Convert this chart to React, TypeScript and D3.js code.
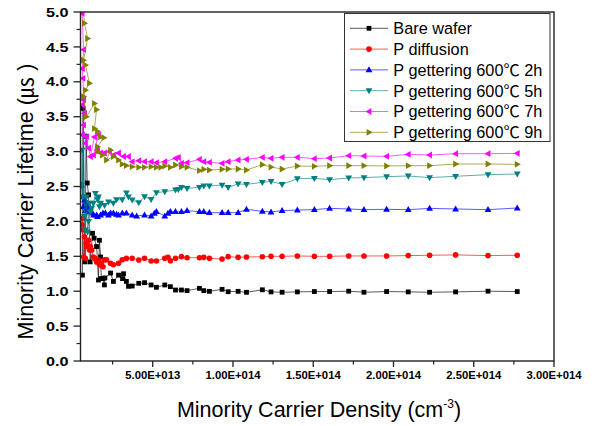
import React from 'react';
import * as d3 from 'd3';

const W = 594;
const H = 426;
const PL = 80.5, PR = 554, PT = 12, PB = 361;

const seriesNames = [
  'Bare wafer',
  'P diffusion',
  'P gettering 600℃ 2h',
  'P gettering 600℃ 5h',
  'P gettering 600℃ 7h',
  'P gettering 600℃ 9h',
];
const seriesColors = ['#000000', '#FF0000', '#0000FF', '#008080', '#FF00FF', '#808000'];
const seriesMarkers = ['square', 'circle', 'up', 'down', 'left', 'right'];

// x values in units of 1e13 cm^-3
const bareX = [0.62, 0.66, 0.72, 0.78, 0.85, 0.92, 1.0, 1.1, 1.25, 1.35, 1.5, 1.56, 1.62, 1.68, 1.75, 1.8, 1.9, 1.99, 2.02, 2.37, 2.55, 2.87, 3.12, 3.18, 3.36, 3.49,
  3.72, 4.13, 4.49, 4.9, 5.23, 5.75, 6.1, 6.42, 6.79, 7.14, 7.91, 8.18, 8.53, 9.32, 9.7, 10.32, 10.84,
  11.83, 12.37, 13.06, 14.01, 15.07, 16.02, 17.21, 18.16, 19.57, 20.92, 22.25, 23.87, 25.89, 27.71];
const bareY = [1.23, 3.62, 2.05, 1.42, 3.22, 2.55, 2.38, 1.42, 1.83, 1.76, 1.64, 1.45, 1.16, 1.73, 1.49, 1.18, 1.18, 1.09, 1.19, 1.26, 1.14, 1.23, 1.18, 1.25, 1.14, 1.07,
  1.074, 1.113, 1.122, 1.089, 1.056, 1.089, 1.065, 1.017, 1.017, 1.008, 1.041, 1.008, 0.998, 1.027, 0.993, 0.998, 0.984,
  1.02, 0.99, 0.985, 0.99, 0.995, 0.995, 1.0, 0.985, 0.995, 0.99, 0.985, 0.99, 1.0, 0.995];

const diffX = [0.56, 0.6, 0.65, 0.7, 0.75, 0.8, 0.85, 0.9, 1.0, 1.06, 1.12, 1.2, 1.3, 1.4, 1.5, 1.6, 1.68, 1.78, 1.9, 2.0, 2.12, 2.37, 2.55, 2.87, 3.1, 3.36,
  3.72, 4.13, 4.49, 4.9, 5.23, 5.75, 5.95, 6.1, 6.42, 6.79, 7.14, 7.91, 8.18, 8.53, 9.32, 9.7, 10.32, 10.84,
  11.83, 12.37, 13.06, 14.01, 15.07, 16.02, 17.21, 18.16, 19.57, 20.92, 22.25, 23.87, 25.89, 27.71];
const diffY = [2.04, 1.95, 1.88, 1.49, 1.78, 1.47, 1.69, 1.64, 1.73, 1.59, 1.64, 1.59, 1.49, 1.47, 1.42, 1.45, 1.38, 1.4, 1.35, 1.45, 1.45, 1.4, 1.38, 1.4, 1.45, 1.47,
  1.471, 1.447, 1.471, 1.433, 1.433, 1.471, 1.485, 1.437, 1.471, 1.495, 1.48, 1.48, 1.485, 1.471, 1.461, 1.495, 1.485, 1.49,
  1.494, 1.5, 1.5, 1.505, 1.5, 1.5, 1.505, 1.505, 1.505, 1.51, 1.515, 1.52, 1.51, 1.515];

const g2X = [0.56, 0.62, 0.68, 0.75, 0.81, 0.87, 0.94, 1.0, 1.06, 1.12, 1.25, 1.31, 1.5, 1.56, 1.75, 1.9, 2.05, 2.24, 2.37, 2.55, 2.74, 2.87, 3.1, 3.36,
  3.72, 4.0, 4.49, 4.9, 5.1, 5.23, 5.75, 5.95, 6.1, 6.42, 6.79, 7.14, 7.91, 8.18, 8.53, 9.32, 9.7, 10.32, 10.84,
  11.83, 12.37, 13.06, 14.01, 15.07, 16.02, 17.21, 18.16, 19.57, 20.92, 22.25, 23.87, 25.89, 27.71];
const g2Y = [2.52, 2.35, 2.21, 2.31, 2.16, 2.28, 2.19, 2.23, 2.14, 2.14, 2.12, 2.09, 2.09, 2.07, 2.09, 2.12, 2.12, 2.09, 2.12, 2.12, 2.1, 2.09, 2.12, 2.12,
  2.092, 2.077, 2.092, 2.077, 2.116, 2.139, 2.077, 2.116, 2.139, 2.139, 2.139, 2.154, 2.139, 2.139, 2.125, 2.125, 2.125, 2.125, 2.173,
  2.144, 2.135, 2.154, 2.163, 2.168, 2.187, 2.178, 2.168, 2.173, 2.168, 2.187, 2.178, 2.168, 2.192];

const g5X = [0.56, 0.6, 0.65, 0.7, 0.75, 0.8, 0.87, 0.94, 1.0, 1.06, 1.12, 1.2, 1.31, 1.43, 1.56, 1.62, 1.68, 1.75, 2.0, 2.24, 2.55, 2.74, 3.1, 3.36, 3.49,
  3.72, 4.13, 4.49, 4.9, 5.23, 5.75, 6.42, 6.6, 6.79, 7.14, 7.91, 8.18, 8.53, 9.32, 9.7, 10.32, 10.84,
  11.83, 12.37, 13.06, 14.01, 15.07, 16.02, 17.21, 18.16, 19.57, 20.92, 22.25, 23.87, 25.89, 27.71];
const g5Y = [2.52, 3.02, 2.35, 3.22, 2.07, 1.88, 2.35, 1.85, 2.0, 2.26, 2.14, 2.19, 2.26, 2.4, 2.31, 2.35, 2.21, 2.26, 2.23, 2.28, 2.26, 2.31, 2.31, 2.41, 2.35,
  2.307, 2.268, 2.354, 2.316, 2.412, 2.426, 2.45, 2.459, 2.488, 2.474, 2.488, 2.507, 2.507, 2.521, 2.488, 2.536, 2.531,
  2.56, 2.574, 2.531, 2.612, 2.617, 2.598, 2.622, 2.627, 2.641, 2.651, 2.627, 2.646, 2.67, 2.679];

const g7X = [0.56, 0.6, 0.69, 0.62, 0.65, 0.69, 0.62, 0.75, 0.69, 0.62, 0.87, 0.81, 1.0, 1.12, 1.37, 1.62, 1.31, 1.56, 1.75, 1.99, 2.3, 2.55, 2.87, 3.18, 3.49,
  3.72, 4.13, 4.49, 4.9, 5.23, 5.75, 6.42, 6.6, 6.79, 7.14, 7.91, 8.18, 8.53, 9.32, 9.7, 10.32, 10.84,
  11.83, 12.37, 13.06, 14.01, 15.07, 16.02, 17.21, 18.16, 19.57, 20.92, 22.25, 23.87, 25.89, 27.71];
const g7Y = [5.2, 4.98, 4.46, 4.19, 4.05, 3.74, 3.67, 3.55, 3.38, 3.24, 3.21, 3.12, 3.05, 2.93, 3.21, 3.24, 2.95, 3.02, 2.98, 2.98, 3.0, 2.95, 2.98, 2.93, 2.93,
  2.856, 2.87, 2.856, 2.856, 2.841, 2.856, 2.904, 2.918, 2.832, 2.841, 2.889, 2.856, 2.846, 2.832, 2.856, 2.88, 2.889,
  2.918, 2.904, 2.918, 2.918, 2.899, 2.908, 2.942, 2.937, 2.932, 2.961, 2.951, 2.97, 2.97, 2.975];

const g9X = [0.58, 0.75, 0.94, 0.69, 0.81, 1.06, 0.81, 0.69, 0.87, 1.37, 1.5, 1.37, 1.56, 1.75, 1.96, 1.56, 1.56, 1.87, 2.37, 2.12, 2.55, 2.87, 3.1, 3.36,
  3.72, 4.13, 4.49, 4.9, 5.23, 5.5, 5.75, 6.1, 6.42, 6.79, 7.14, 7.91, 8.18, 8.53, 9.32, 9.7, 10.32, 10.84,
  11.83, 12.37, 13.06, 14.01, 15.07, 16.02, 17.21, 18.16, 19.57, 20.92, 22.25, 23.87, 25.89, 27.71];
const g9Y = [5.25, 4.84, 4.62, 4.31, 4.24, 3.98, 3.88, 3.79, 3.5, 3.69, 3.6, 3.33, 3.29, 3.21, 3.2, 3.07, 3.0, 2.95, 3.02, 2.88, 2.93, 2.88, 2.82, 2.8,
  2.784, 2.775, 2.775, 2.784, 2.775, 2.775, 2.794, 2.775, 2.808, 2.784, 2.775, 2.727, 2.746, 2.736, 2.746, 2.751, 2.751, 2.736,
  2.813, 2.779, 2.751, 2.794, 2.789, 2.798, 2.798, 2.798, 2.794, 2.798, 2.798, 2.822, 2.822, 2.818];

const seriesX = [bareX, diffX, g2X, g5X, g7X, g9X];
const seriesY = [bareY, diffY, g2Y, g5Y, g7Y, g9Y];

const xTickValues = [5, 10, 15, 20, 25, 30];
const xTickLabels = ['5.00E+013', '1.00E+014', '1.50E+014', '2.00E+014', '2.50E+014', '3.00E+014'];
const xMinorTicks = [2.5, 7.5, 12.5, 17.5, 22.5, 27.5];
const yTickValues = [0, 0.5, 1, 1.5, 2, 2.5, 3, 3.5, 4, 4.5, 5];
const yTickLabels = ['0.0', '0.5', '1.0', '1.5', '2.0', '2.5', '3.0', '3.5', '4.0', '4.5', '5.0'];
const yMinorTicks = [0.25, 0.75, 1.25, 1.75, 2.25, 2.75, 3.25, 3.75, 4.25, 4.75];

const FONT = "'Liberation Sans', Arial, 'Noto Sans CJK SC', sans-serif";
const CJK = "'Noto Sans CJK SC', 'Noto Sans CJK JP', sans-serif";

function Marker({ type, x, y, color }: { type: string; x: number; y: number; color: string }) {
  if (type === 'square') return <rect x={x - 2.4} y={y - 2.4} width={4.8} height={4.8} fill={color} />;
  if (type === 'circle') return <circle cx={x} cy={y} r={2.8} fill={color} />;
  const rot = type === 'up' ? 0 : type === 'down' ? 180 : type === 'left' ? -90 : 90;
  return (
    <path d="M0,-3.6L3.4,2.4L-3.4,2.4Z" fill={color} transform={`translate(${x},${y}) rotate(${rot})`} />
  );
}

export default function App() {
  const x = d3.scaleLinear().domain([0.5, 30]).range([PL, PR]);
  const y = d3.scaleLinear().domain([0, 5]).range([PB, PT]);
  const line = d3.line<[number, number]>().x((d) => x(d[0])).y((d) => y(d[1]));

  const legendX = 344.5, legendY = 13.5, legendW = 205.5, legendH = 128;
  const rowStart = 28.3, rowStep = 20.8;

  return (
    <svg width={W} height={H} style={{ position: 'absolute', left: 0, top: 0, background: '#fff' }} fontFamily={FONT}>
      <defs>
        <clipPath id="plotClip">
          <rect x={PL} y={PT} width={PR - PL} height={PB - PT} />
        </clipPath>
      </defs>
      <rect x={0} y={0} width={W} height={H} fill="#fff" />

      <g clipPath="url(#plotClip)">
        {seriesX.map((xs, i) => {
          const pts: [number, number][] = xs.map((v, j) => [v, seriesY[i][j]]);
          return (
            <g key={i}>
              <path d={line(pts) || ''} fill="none" stroke={seriesColors[i]} strokeWidth={1} strokeOpacity={0.65} />
              {pts.map((p, j) => (
                <Marker key={j} type={seriesMarkers[i]} x={x(p[0])} y={y(p[1])} color={seriesColors[i]} />
              ))}
            </g>
          );
        })}
      </g>

      {/* frame */}
      <rect x={PL} y={PT} width={PR - PL} height={PB - PT} fill="none" stroke="#222" strokeWidth={1.4} />

      {/* y ticks */}
      {yTickValues.map((v, i) => (
        <g key={'yt' + i}>
          <line x1={PL - 7} x2={PL} y1={y(v)} y2={y(v)} stroke="#222" strokeWidth={1.3} />
          <text x={68.5} y={y(v) + 4.6} textAnchor="end" fontSize={12.5} fontWeight="bold" textLength={22.5} lengthAdjust="spacingAndGlyphs" fill="#000">
            {yTickLabels[i]}
          </text>
        </g>
      ))}
      {yMinorTicks.map((v, i) => (
        <line key={'ym' + i} x1={PL - 4} x2={PL} y1={y(v)} y2={y(v)} stroke="#222" strokeWidth={1.2} />
      ))}

      {/* x ticks */}
      {xTickValues.map((v, i) => (
        <g key={'xt' + i}>
          <line x1={x(v)} x2={x(v)} y1={PB} y2={PB + 6} stroke="#222" strokeWidth={1.3} />
          <text x={x(v)} y={379} textAnchor="middle" fontSize={11.3} fontWeight="bold" fill="#000">
            {xTickLabels[i]}
          </text>
        </g>
      ))}
      {xMinorTicks.map((v, i) => (
        <line key={'xm' + i} x1={x(v)} x2={x(v)} y1={PB} y2={PB + 3.5} stroke="#222" strokeWidth={1.2} />
      ))}

      {/* axis titles */}
      <text x={319} y={417} textAnchor="middle" fontSize={21.5} fill="#000">
        Minority Carrier Density (cm
        <tspan fontSize={12} dy={-9}>-3</tspan>
        <tspan dy={9}>)</tspan>
      </text>
      <text transform="translate(33,201.5) rotate(-90)" textAnchor="middle" fontSize={21.5} fill="#000">
        Minority Carrier Lifetime (<tspan fontFamily={CJK}>㎲</tspan> )
      </text>

      {/* legend */}
      <rect x={legendX} y={legendY} width={legendW} height={legendH} fill="#fff" stroke="#333" strokeWidth={1} />
      {seriesNames.map((name, i) => {
        const cy = rowStart + i * rowStep;
        return (
          <g key={'lg' + i}>
            <line x1={350} x2={388} y1={cy} y2={cy} stroke={seriesColors[i]} strokeWidth={1} strokeOpacity={0.65} />
            <Marker type={seriesMarkers[i]} x={369} y={cy} color={seriesColors[i]} />
            <text x={393.3} y={cy + 5.9} fontSize={16.3} fill="#000">{name}</text>
          </g>
        );
      })}
    </svg>
  );
}
